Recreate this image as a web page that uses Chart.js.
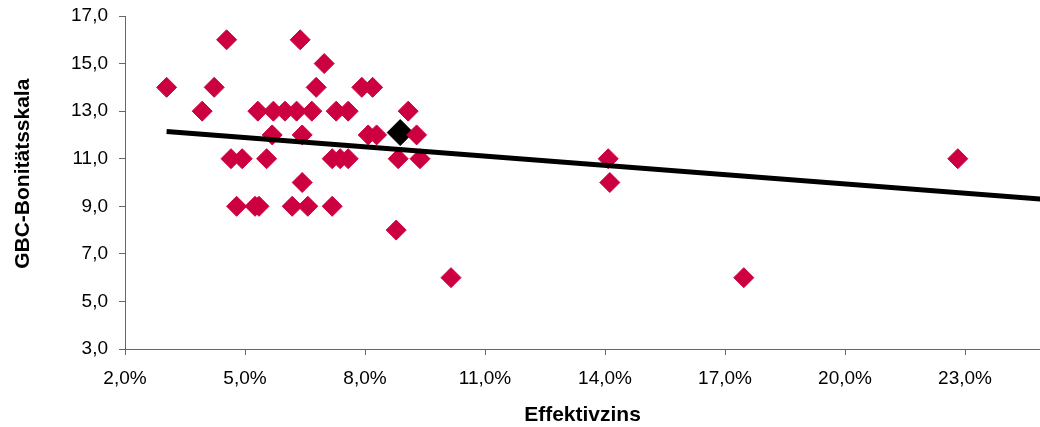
<!DOCTYPE html>
<html>
<head>
<meta charset="utf-8">
<script src="https://cdn.jsdelivr.net/npm/chart.js@4/dist/chart.umd.min.js"></script>
<style>
  html, body { margin: 0; padding: 0; overflow: hidden; background: #fff; }
  #wrap { width: 1040px; height: 427px; }
</style>
</head>
<body>
<div id="wrap"><canvas id="gbcChart" width="1040" height="427"></canvas></div>
<script>
// Effektivzins (%) and GBC-Bonitätsskala per bond
const effektivzins = [3.04, 3.93, 4.23, 4.54, 4.65, 4.79, 4.93, 5.25, 5.35, 5.32,
  5.54, 5.68, 5.71, 6.0, 6.18, 6.29, 6.38, 6.43, 6.43, 6.57,
  6.67, 6.78, 6.98, 7.18, 7.18, 7.28, 7.38, 7.58, 7.58, 7.92,
  8.08, 8.19, 8.29, 8.78, 8.83, 9.08, 9.29, 9.375, 10.15, 14.08,
  14.12, 17.47, 22.82];
const bonitaet = [14, 13, 14, 16, 11, 9, 11, 9, 9, 13,
  11, 12, 13, 13, 9, 13, 16, 12, 10, 9,
  13, 14, 15, 9, 11, 13, 11, 11, 13, 14,
  12, 14, 12, 8, 11, 13, 12, 11, 6, 11,
  10, 6, 11];

// highlighted bond (black diamond)
const markX = [8.88];
const markY = [12.1];

// trend line end points
const trendX = [3.04, 25];
const trendY = [12.14, 9.29];

const xTicks = [2, 5, 8, 11, 14, 17, 20, 23];
const yTicks = [3, 5, 7, 9, 11, 13, 15, 17];

const toPoints = (xs, ys) => xs.map((x, i) => ({ x: x, y: ys[i] }));
const comma = v => v.toFixed(1).replace('.', ',');

const ctx = document.getElementById('gbcChart').getContext('2d');
new Chart(ctx, {
  type: 'scatter',
  data: {
    datasets: [
      {
        label: 'Trend',
        type: 'line',
        data: toPoints(trendX, trendY),
        borderColor: '#000',
        borderWidth: 5,
        pointRadius: 0,
        fill: false,
        order: 0
      },
      {
        label: 'Anleihen',
        data: toPoints(effektivzins, bonitaet),
        pointStyle: 'rectRot',
        pointRadius: 10,
        pointBorderWidth: 1,
        backgroundColor: '#CC0040',
        borderColor: '#CC0040',
        order: 1
      },
      {
        label: 'Markiert',
        data: toPoints(markX, markY),
        pointStyle: 'rectRot',
        pointRadius: 13,
        pointBorderWidth: 1,
        backgroundColor: '#000',
        borderColor: '#000',
        order: 2
      }
    ]
  },
  options: {
    responsive: false,
    animation: false,
    layout: { autoPadding: false, padding: { top: 16, right: 0, left: 0, bottom: 0 } },
    plugins: {
      legend: { display: false },
      tooltip: { enabled: false }
    },
    scales: {
      x: {
        type: 'linear',
        min: 2,
        max: 24.875,
        afterBuildTicks: s => { s.ticks = xTicks.map(v => ({ value: v })); },
        afterFit: s => { s.height = 78; s.paddingLeft = 0; s.paddingRight = 0; },
        ticks: {
          callback: v => comma(v) + '%',
          font: { family: 'Liberation Sans', size: 19 },
          color: '#000',
          padding: 12,
          maxRotation: 0,
          autoSkip: false
        },
        grid: { drawOnChartArea: false, drawTicks: true, tickLength: 6, color: '#666' },
        border: { display: true, color: '#666', width: 1 },
        title: {
          display: true,
          text: 'Effektivzins',
          font: { family: 'Liberation Sans', size: 21, weight: 'bold', lineHeight: 1 },
          color: '#000',
          padding: { top: 0, bottom: 1 }
        }
      },
      y: {
        min: 3,
        max: 17,
        afterBuildTicks: s => { s.ticks = yTicks.map(v => ({ value: v })); },
        afterFit: s => { s.width = 125; s.paddingTop = 0; s.paddingBottom = 0; },
        ticks: {
          callback: v => comma(v),
          font: { family: 'Liberation Sans', size: 19 },
          color: '#000',
          padding: 11
        },
        grid: { drawOnChartArea: false, drawTicks: true, tickLength: 6, color: '#666' },
        border: { display: true, color: '#666', width: 1 },
        title: {
          display: true,
          text: '   GBC-Bonitätsskala',
          font: { family: 'Liberation Sans', size: 21, weight: 'bold', lineHeight: 1 },
          color: '#000',
          padding: { top: 13, bottom: 0 }
        }
      }
    }
  }
});
</script>
</body>
</html>
